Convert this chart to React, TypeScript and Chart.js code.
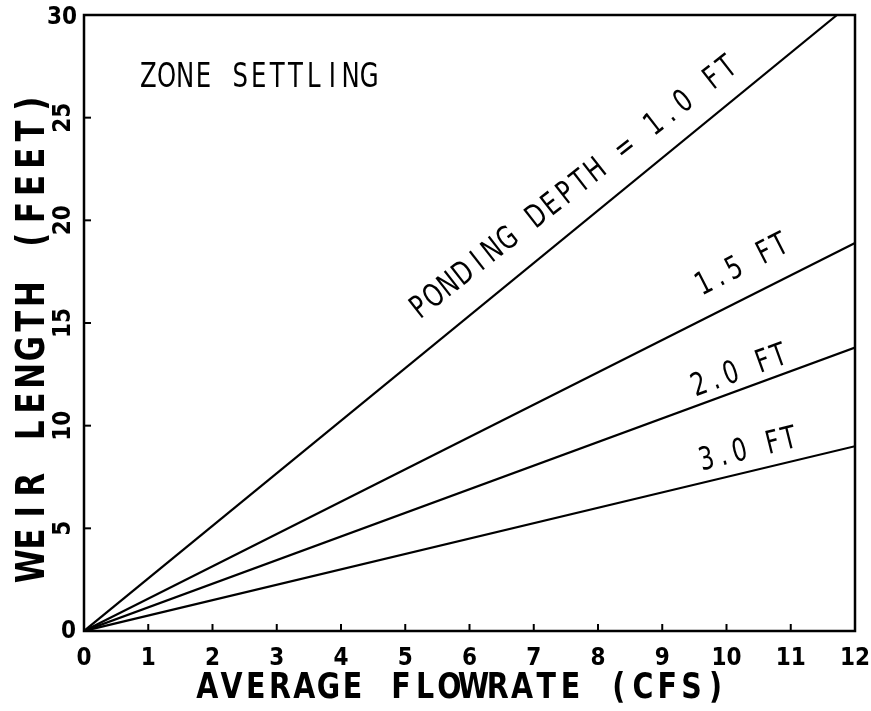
import React, { useEffect, useRef } from 'react';
import { Chart, registerables } from 'chart.js';

Chart.register(...registerables);

// Series: weir length (ft) vs average flowrate (cfs), one per ponding depth
const x10 = [0, 11.72];
const y10 = [0, 30];
const x15 = [0, 12];
const y15 = [0, 18.9];
const x20 = [0, 12];
const y20 = [0, 13.8];
const x30 = [0, 12];
const y30 = [0, 9.0];

const seriesNames = ['PONDING DEPTH = 1.0 FT', '1.5 FT', '2.0 FT', '3.0 FT'];
const xTicks = [0, 1, 2, 3, 4, 5, 6, 7, 8, 9, 10, 11, 12];
const yTicks = [0, 5, 10, 15, 20, 25, 30];
const xTitle = 'AVERAGE FLOWRATE (CFS)';
const yTitle = 'WEIR LENGTH (FEET)';
const noteText = 'ZONE SETTLING';

const TICK_FAMILY = '"DejaVu Sans Condensed", "Liberation Sans Narrow", "DejaVu Sans", sans-serif';

function drawPlotText(
  ctx: CanvasRenderingContext2D,
  text: string,
  x: number,
  y: number,
  angleDeg: number,
  cell: number,
  cap: number,
  bold: boolean,
  sx: number
) {
  const size = cap / 0.729;
  ctx.save();
  ctx.translate(x, y);
  ctx.rotate((angleDeg * Math.PI) / 180);
  ctx.font = `${bold ? 'bold ' : ''}${size}px "DejaVu Sans"`;
  ctx.textAlign = 'center';
  ctx.textBaseline = 'alphabetic';
  ctx.fillStyle = '#000';
  for (let i = 0; i < text.length; i++) {
    const ch = text[i];
    if (ch === ' ') continue;
    ctx.save();
    ctx.translate(i * cell + cell / 2, 0);
    ctx.scale(sx, 1);
    ctx.fillText(ch, 0, 0);
    ctx.restore();
  }
  ctx.restore();
}

const framePlugin = {
  id: 'frame',
  afterDatasetsDraw(chart: any) {
    const { ctx, chartArea } = chart;
    const xs = chart.scales.x;
    const ys = chart.scales.y;
    ctx.save();
    ctx.strokeStyle = '#000';
    ctx.lineWidth = 2.5;
    ctx.strokeRect(chartArea.left, chartArea.top, chartArea.right - chartArea.left, chartArea.bottom - chartArea.top);
    ctx.lineWidth = 2;
    // inward tick marks
    xTicks.forEach((v) => {
      if (v === xTicks[0] || v === xTicks[xTicks.length - 1]) return;
      const px = xs.getPixelForValue(v);
      ctx.beginPath();
      ctx.moveTo(px, chartArea.bottom);
      ctx.lineTo(px, chartArea.bottom - 7);
      ctx.stroke();
    });
    yTicks.forEach((v) => {
      if (v === yTicks[0] || v === yTicks[yTicks.length - 1]) return;
      const py = ys.getPixelForValue(v);
      ctx.beginPath();
      ctx.moveTo(chartArea.left, py);
      ctx.lineTo(chartArea.left + 7, py);
      ctx.stroke();
    });

    // y tick labels (rotated, as on the plotter original; end labels upright)
    ctx.fillStyle = '#000';
    ctx.font = `bold 24px ${TICK_FAMILY}`;
    ctx.textBaseline = 'middle';
    yTicks.forEach((v, i) => {
      const py = ys.getPixelForValue(v);
      const label = String(v);
      if (i === 0) {
        ctx.textAlign = 'right';
        ctx.fillText(label, chartArea.left - 8, py + 1);
      } else if (i === yTicks.length - 1) {
        ctx.textAlign = 'center';
        ctx.fillText(label, chartArea.left - 22, py + 3);
      } else {
        ctx.save();
        ctx.translate(chartArea.left - 21, py);
        ctx.rotate(-Math.PI / 2);
        ctx.textAlign = 'center';
        ctx.fillText(label, 0, 1);
        ctx.restore();
      }
    });
    ctx.restore();

    // series labels along lines
    const P = (x: number, y: number) => [xs.getPixelForValue(x), ys.getPixelForValue(y)];
    let p = P(5.2, 15.1);
    drawPlotText(ctx, seriesNames[0], p[0], p[1], -38, 18.6, 23, false, 0.74);
    p = P(9.6, 16.3);
    drawPlotText(ctx, seriesNames[1], p[0], p[1], -27, 17.0, 23, false, 0.74);
    p = P(9.5, 11.4);
    drawPlotText(ctx, seriesNames[2], p[0], p[1], -20, 17.0, 23, false, 0.74);
    p = P(9.6, 7.8);
    drawPlotText(ctx, seriesNames[3], p[0], p[1], -14, 17.0, 23, false, 0.74);
    p = P(0.857, 26.5);
    drawPlotText(ctx, noteText, p[0], p[1], 0, 18.4, 24, false, 0.74);

    // axis titles
    const cxCenter = (chartArea.left + chartArea.right) / 2 - 8;
    const xCell = 24.2;
    drawPlotText(ctx, xTitle, cxCenter - (xTitle.length * xCell) / 2, 698, 0, xCell, 26, true, 0.8);
    const cyCenter = (chartArea.top + chartArea.bottom) / 2 + 12;
    const yCell = 27.2;
    drawPlotText(ctx, yTitle, 44, cyCenter + (yTitle.length * yCell) / 2, -90, yCell, 28, true, 0.8);
  },
};

export default function App() {
  const ref = useRef<HTMLCanvasElement | null>(null);
  useEffect(() => {
    if (!ref.current) return;
    const mk = (xa: number[], ya: number[]) => xa.map((x, i) => ({ x, y: ya[i] }));
    const lineStyle = {
      borderColor: '#000',
      backgroundColor: '#000',
      borderWidth: 2.2,
      pointRadius: 0,
      fill: false,
      tension: 0,
    };
    const tickFont = { family: TICK_FAMILY, size: 24, weight: 'bold' as const };
    const chart = new Chart(ref.current, {
      type: 'line',
      data: {
        datasets: [
          { label: seriesNames[0], data: mk(x10, y10), ...lineStyle },
          { label: seriesNames[1], data: mk(x15, y15), ...lineStyle },
          { label: seriesNames[2], data: mk(x20, y20), ...lineStyle },
          { label: seriesNames[3], data: mk(x30, y30), ...lineStyle },
        ],
      },
      options: {
        animation: false,
        responsive: true,
        maintainAspectRatio: false,
        layout: { padding: { top: 15, right: 16, left: 0, bottom: 0 } },
        plugins: { legend: { display: false }, tooltip: { enabled: false }, title: { display: false } },
        scales: {
          x: {
            type: 'linear',
            min: 0,
            max: 12,
            afterBuildTicks: (s: any) => {
              s.ticks = xTicks.map((v) => ({ value: v }));
            },
            afterFit: (s: any) => {
              s.height = 80;
              s.paddingLeft = 0;
              s.paddingRight = 0;
            },
            grid: { display: false },
            border: { display: false },
            ticks: { color: '#000', font: tickFont, padding: 5, maxRotation: 0, minRotation: 0 },
          },
          y: {
            type: 'linear',
            min: 0,
            max: 30,
            afterBuildTicks: (s: any) => {
              s.ticks = yTicks.map((v) => ({ value: v }));
            },
            afterFit: (s: any) => {
              s.width = 84;
              s.paddingTop = 0;
              s.paddingBottom = 0;
            },
            grid: { display: false },
            border: { display: false },
            ticks: { display: false },
          },
        },
      },
      plugins: [framePlugin],
    } as any);
    return () => chart.destroy();
  }, []);
  return (
    <div style={{ position: 'absolute', left: 0, top: 0, width: 871, height: 711, background: '#fff' }}>
      <canvas ref={ref} />
    </div>
  );
}
